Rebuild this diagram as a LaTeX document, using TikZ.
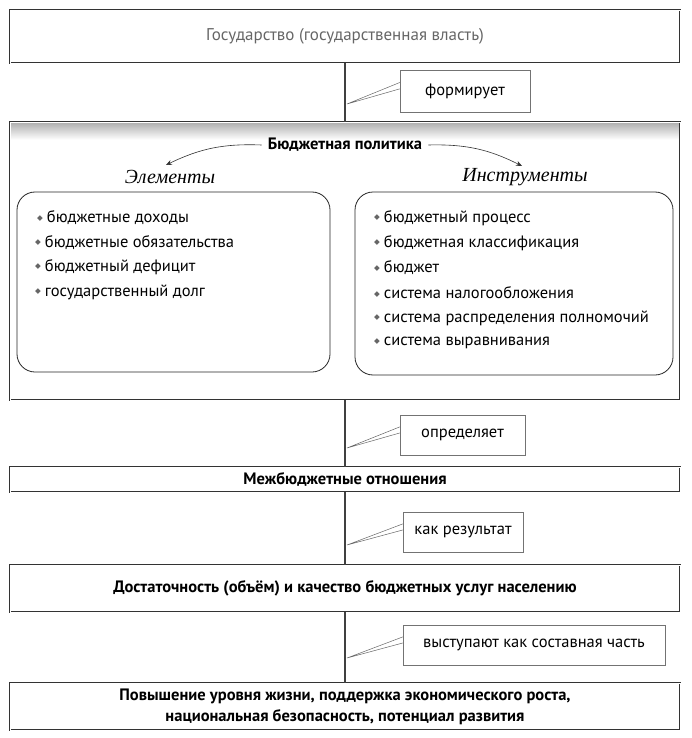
\documentclass[tikz,border=0pt]{standalone}
\usepackage{fontspec}
\setmainfont{PT Sans}
\newfontfamily\itserif{Liberation Serif}
\newfontfamily\dejavu{DejaVu Sans}
\usetikzlibrary{calc,arrows.meta}
\tikzset{
  mainbox/.style={draw=black!80, line width=0.6pt, double=white, double distance=0.7pt, inner sep=0pt, align=center, font=\fontsize{17}{20}\selectfont},
  roundbox/.style={draw=black!85, line width=0.8pt, rounded corners=18pt, inner sep=0pt},
  labelbox/.style={draw=black!55, line width=0.5pt, fill=white, inner sep=0pt, font=\fontsize{16.5}{19}\selectfont},
  item/.style={anchor=west, inner sep=0pt, font=\fontsize{16.5}{19}\selectfont},
  link/.style={draw=black!75, line width=1.1pt},
  callout/.style={draw=black!60, line width=0.5pt},
  curvearrow/.style={draw=black!80, line width=0.6pt, -{Stealth[length=6pt,width=5pt]}},
  heading/.style={inner sep=0pt, font=\itserif\itshape\fontsize{20}{23}\selectfont}
}
\newcommand{\bul}{\raisebox{2.5pt}{\color{black!60}\dejavu\fontsize{7.5}{7.5}\selectfont ◆}\hspace{4pt}}
\begin{document}
\begin{tikzpicture}[x=1pt,y=-1pt]
\useasboundingbox (0,0) rectangle (691,738);
% main boxes
\node[mainbox, minimum width=670pt, minimum height=53pt, text=black!60] (state) at (345,36.5) {Государство (государственная власть)};
\node[mainbox, minimum width=670pt, minimum height=278pt] (policy) at (345,261) {};
\shade[top color=black!30, bottom color=white] ($(policy.north west)+(1.5pt,-1.5pt)$) rectangle ($(policy.north east)+(-1.5pt,-18pt)$);
\node[mainbox, minimum width=670pt, minimum height=25pt, font=\bfseries\fontsize{16.5}{19}\selectfont] (inter) at (345,479.5) {Межбюджетные отношения};
\node[mainbox, minimum width=670pt, minimum height=47pt, font=\bfseries\fontsize{16.5}{19}\selectfont] (suff) at (345,588.5) {Достаточность (объём) и качество бюджетных услуг населению};
\node[mainbox, minimum width=670pt, minimum height=47pt, font=\bfseries\fontsize{16.5}{21}\selectfont] (goal) at (345,706.5) {Повышение уровня жизни, поддержка экономического роста,\\национальная безопасность, потенциал развития};
% vertical links
\draw[link] (state.south) -- (policy.north);
\draw[link] (policy.south) -- (inter.north);
\draw[link] (inter.south) -- (suff.north);
\draw[link] (suff.south) -- (goal.north);
% label boxes with callouts
\node[labelbox, minimum width=130pt, minimum height=42pt] (l1) at (465,91) {формирует};
\node[labelbox, minimum width=125pt, minimum height=40pt] (l2) at (462.5,435) {определяет};
\node[labelbox, minimum width=120pt, minimum height=40pt] (l3) at (463,532) {как результат};
\node[labelbox, minimum width=262pt, minimum height=40pt] (l4) at (534,645) {выступают как составная часть};
\coordinate (p1) at (347,104);
\coordinate (p2) at (347,448);
\coordinate (p3) at (347,545);
\coordinate (p4) at (347,658);
\draw[callout] ($(l1.north west)!0.3!(l1.south west)$) -- (p1) -- ($(l1.north west)!0.45!(l1.south west)$);
\draw[callout] ($(l2.north west)!0.3!(l2.south west)$) -- (p2) -- ($(l2.north west)!0.45!(l2.south west)$);
\draw[callout] ($(l3.north west)!0.3!(l3.south west)$) -- (p3) -- ($(l3.north west)!0.45!(l3.south west)$);
\draw[callout] ($(l4.north west)!0.3!(l4.south west)$) -- (p4) -- ($(l4.north west)!0.45!(l4.south west)$);
% inside policy box
\node[inner sep=0pt, font=\bfseries\fontsize{16.5}{19}\selectfont] (title) at (345,145) {Бюджетная политика};
\node[heading] (elem) at (170,177) {Элементы};
\node[heading] (instr) at (525,177) {Инструменты};
\draw[curvearrow] ([xshift=-6pt]title.west) to[bend right=14] (166,165);
\draw[curvearrow] ([xshift=6pt]title.east) to[bend left=14] (522,166);
\node[roundbox, minimum width=313pt, minimum height=180pt] (left) at (173.5,282) {};
\node[roundbox, minimum width=318pt, minimum height=183pt] (right) at (514,283.5) {};
\node[item] (e1) at (37,218) {\bul бюджетные доходы};
\node[item] (e2) at (35,242.5) {\bul бюджетные обязательства};
\node[item] (e3) at (35,267) {\bul бюджетный дефицит};
\node[item] (e4) at (35,292) {\bul государственный долг};
\node[item] (i1) at (374,218) {\bul бюджетный процесс};
\node[item] (i2) at (374,243) {\bul бюджетная классификация};
\node[item] (i3) at (374,268) {\bul бюджет};
\node[item] (i4) at (374,293) {\bul система налогообложения};
\node[item] (i5) at (374,318) {\bul система распределения полномочий};
\node[item] (i6) at (374,343) {\bul система выравнивания};
\end{tikzpicture}
\end{document}
